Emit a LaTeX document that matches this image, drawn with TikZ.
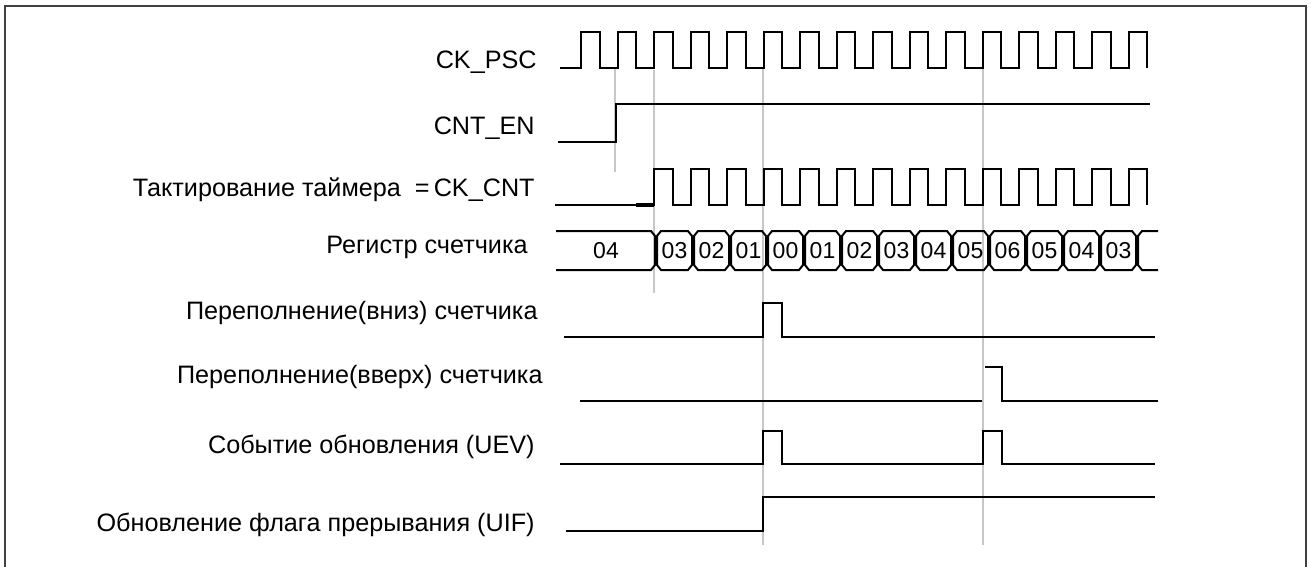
\documentclass[tikz,border=0pt]{standalone}
\usepackage{fontspec}
\setmainfont{Liberation Sans}
\usepackage{tikz}
\usetikzlibrary{calc}

\begin{document}
\begin{tikzpicture}[x=0.5pt,y=-0.5pt,
        sig/.style={line width=1pt},
        guide/.style={draw=black!22, line width=1pt},
        frame/.style={draw=black!75, line width=1.4pt},
        lbl/.style={anchor=east, inner sep=0pt, font=\fontsize{12.6}{14}\selectfont},
        val/.style={inner sep=0pt, font=\fontsize{11.5}{12}\selectfont}]
        \useasboundingbox (0,0) rectangle (1311,567);
        \draw[frame] (5,567) -- (5,6) -- (1306,6) -- (1306,567);

        \draw[guide] (615,68) -- (615,172);
        \draw[guide] (654,70) -- (654,293);
        \draw[guide] (763,68) -- (763,545);
        \draw[guide] (983,68) -- (983,545);

        \node[lbl] (psc) at (537,62) {CK\_PSC};
        \node[lbl] (en) at (535,128) {CNT\_EN};
        \node[lbl] (cnt) at (535,190) {Тактирование таймера\ \ =\,CK\_CNT};
        \node[lbl] (reg) at (528,247) {Регистр счетчика};
        \node[lbl] (udf) at (538,313) {Переполнение(вниз) счетчика};
        \node[lbl] (ovf) at (543,377) {Переполнение(вверх) счетчика};
        \node[lbl] (uev) at (535,447) {Событие обновления (UEV)};
        \node[lbl] (uif) at (535,525) {Обновление флага прерывания (UIF)};

        \draw[sig] (560,68) \foreach \k in {0,...,15}{ -- ({581+36.5*\k},68) -- ++(0,-36) -- ++(18.5,0) -- ++(0,36) };
        \draw[sig] (558,141.5) -- (616,141.5) -- (616,104.5) -- (1150,104.5);
        \draw[sig] (555,204.5) \foreach \k in {2,...,15}{ -- ({581+36.5*\k},204.5) -- ++(0,-36) -- ++(18.5,0) -- ++(0,36) };
        \draw[line width=2pt] (636,204.5) -- (654,204.5);

        \draw[sig] (556,231) -- (651,231) -- (655,236) -- (655,265) -- (651,270) -- (556,270);
        \node[val] (v) at (606,251) {04};
        \foreach \v [count=\k from 0] in {03,02,01,00,01,02,03,04,05,06,05,04,03}{
            \pgfmathsetmacro\a{656+37*\k}
            \pgfmathsetmacro\b{\a+37}
            \draw[sig] (\a+5,231) -- (\b-5,231) -- (\b-1,236) -- (\b-1,265) -- (\b-5,270) -- (\a+5,270) -- (\a+1,265) -- (\a+1,236) -- cycle;
            \node[val] (v\k) at ({(\a+\b)/2},251) {\v};
        }
        \draw[sig] (1158,231) -- (1142,231) -- (1138,236) -- (1138,265) -- (1142,270) -- (1158,270);

        \draw[sig] (564,337) -- (763,337) -- (763,303) -- (782,303) -- (782,337) -- (1155,337);
        \draw[sig] (580,401) -- (982,401);
        \draw[sig] (985,367) -- (1002,367) -- (1002,401) -- (1158,401);
        \draw[sig] (560,464) -- (763,464) -- (763,431) -- (782,431) -- (782,464) -- (983,464) -- (983,431) -- (1002,431) -- (1002,464) -- (1155,464);
        \draw[sig] (566,531) -- (763,531) -- (763,497) -- (1155,497);
    \end{tikzpicture}
\end{document}
